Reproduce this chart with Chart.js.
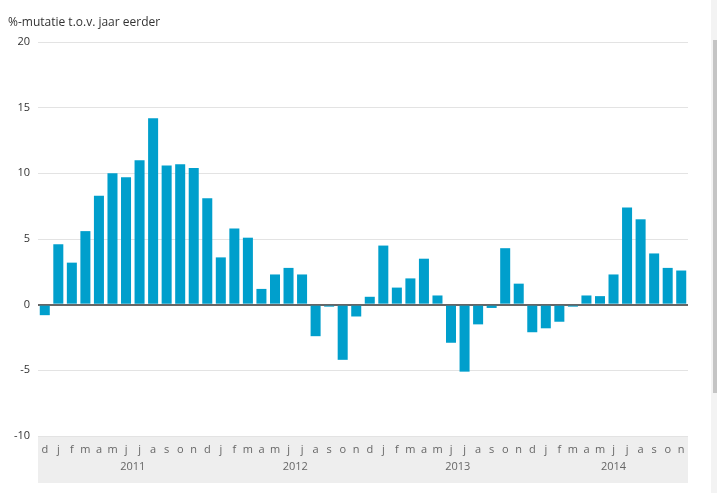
<!DOCTYPE html>
<html>
<head>
<meta charset="utf-8">
<script src="https://cdn.jsdelivr.net/npm/chart.js@4/dist/chart.umd.min.js"></script>
<style>
  html, body { margin: 0; padding: 0; background: #fff; }
  #wrap { position: relative; width: 717px; height: 493px; overflow: hidden; }
  #titel { position: absolute; left: 8px; top: 13px; font: 12px "Open Sans", sans-serif; color: #333; }
  #scroll { position: absolute; left: 711px; top: 0; width: 6px; height: 493px; background: #f3f3f3; }
  #thumb { position: absolute; left: 713px; top: 40px; width: 4px; height: 353px; background: #c4c4c4; }
  canvas { position: absolute; left: 0; top: 0; }
</style>
</head>
<body>
<div id="wrap">
  <canvas id="grafiek" width="717" height="493"></canvas>
  <div id="titel">%-mutatie t.o.v. jaar eerder</div>
  <div id="scroll"></div>
  <div id="thumb"></div>
</div>
<script>
var maanden = ['d',
  'j','f','m','a','m','j','j','a','s','o','n','d',
  'j','f','m','a','m','j','j','a','s','o','n','d',
  'j','f','m','a','m','j','j','a','s','o','n','d',
  'j','f','m','a','m','j','j','a','s','o','n'];

// jaar label: eerste en laatste index van de maanden
var jaren = ['2011', '2012', '2013', '2014'];
var jaarStart = [1, 13, 25, 37];
var jaarEind = [12, 24, 36, 47];

var mutatie = [-0.8,
  4.6, 3.2, 5.6, 8.3, 10.0, 9.7, 11.0, 14.2, 10.6, 10.7, 10.4, 8.1,
  3.6, 5.8, 5.1, 1.2, 2.3, 2.8, 2.3, -2.4, -0.15, -4.2, -0.9, 0.6,
  4.5, 1.3, 2.0, 3.5, 0.7, -2.9, -5.1, -1.5, -0.25, 4.3, 1.6, -2.1,
  -1.8, -1.3, -0.15, 0.7, 0.65, 2.3, 7.4, 6.5, 3.9, 2.8, 2.6];

var yTicks = [-10, -5, 0, 5, 10, 15, 20];

var asBand = {
  id: 'asBand',
  beforeDraw: function(chart) {
    var ctx = chart.ctx, a = chart.chartArea;
    ctx.save();
    ctx.fillStyle = '#eeeeee';
    ctx.fillRect(a.left, a.bottom, a.right - a.left, 47);
    ctx.restore();
  },
  afterDraw: function(chart) {
    var ctx = chart.ctx, x = chart.scales.x, a = chart.chartArea;
    ctx.save();
    ctx.font = '11px "Open Sans", sans-serif';
    ctx.fillStyle = '#666';
    ctx.textAlign = 'center';
    ctx.textBaseline = 'middle';
    for (var i = 0; i < jaren.length; i++) {
      var midden = (x.getPixelForValue(jaarStart[i]) + x.getPixelForValue(jaarEind[i])) / 2;
      ctx.fillText(jaren[i], midden, a.bottom + 31);
    }
    ctx.restore();
  }
};

new Chart(document.getElementById('grafiek'), {
  type: 'bar',
  data: {
    labels: maanden,
    datasets: [{
      data: mutatie,
      backgroundColor: '#009fcc',
      categoryPercentage: 1,
      barPercentage: 0.74
    }]
  },
  options: {
    responsive: false,
    animation: false,
    layout: { padding: { top: 42, right: 29, left: 0, bottom: 0 } },
    plugins: { legend: { display: false }, tooltip: { enabled: false } },
    scales: {
      x: {
        grid: { display: false, drawTicks: false },
        border: { display: false },
        ticks: {
          autoSkip: false, maxRotation: 0, padding: 7,
          color: '#666',
          font: { family: 'Open Sans', size: 11 }
        },
        afterFit: function(s) { s.height = 57; }
      },
      y: {
        min: -10, max: 20,
        afterBuildTicks: function(s) { s.ticks = yTicks.map(function(v) { return { value: v }; }); },
        grid: {
          drawTicks: false,
          color: function(c) { return c.tick && c.tick.value === 0 ? '#666' : '#e3e3e3'; },
          lineWidth: function(c) { return c.tick && c.tick.value === 0 ? 2 : 1; }
        },
        border: { display: false },
        ticks: {
          padding: 8,
          color: '#333',
          font: { family: 'Open Sans', size: 11 }
        },
        afterFit: function(s) { s.width = 38; }
      }
    }
  },
  plugins: [asBand]
});
</script>
</body>
</html>
